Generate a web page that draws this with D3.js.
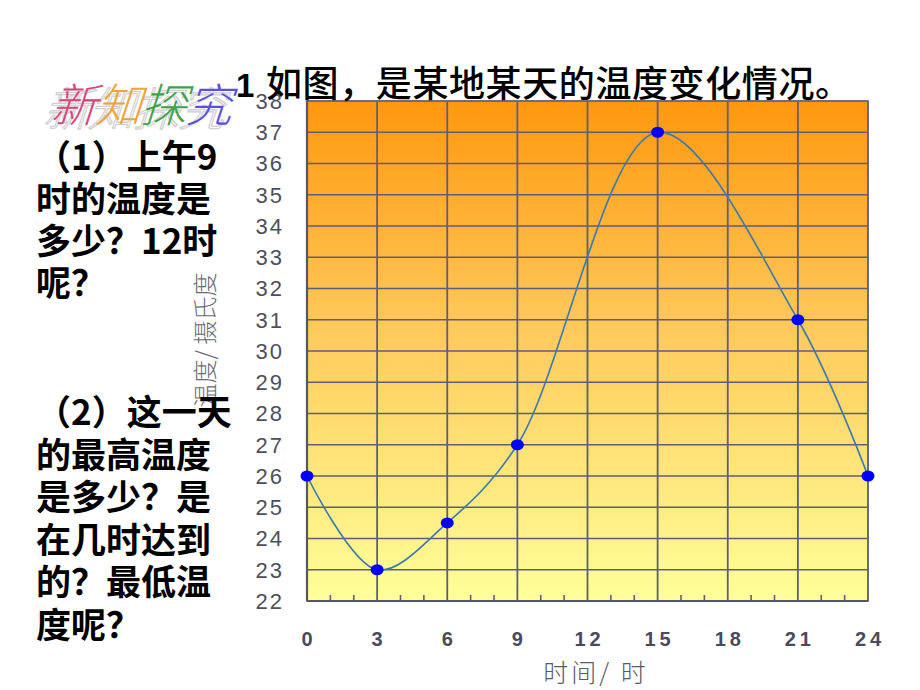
<!DOCTYPE html>
<html>
<head>
<meta charset="utf-8">
<script src="https://cdn.jsdelivr.net/npm/d3@7/dist/d3.min.js"></script>
<style>
  html, body { margin: 0; padding: 0; background: #fff; }
  svg { display: block; }
</style>
</head>
<body>
<svg id="chart" width="920" height="690"></svg>
<script>
// ---- data ----
const hours = [0, 3, 6, 9, 15, 21, 24];
const temps = [26, 23, 24.5, 27, 37, 31, 26];
const xTicks = [0, 3, 6, 9, 12, 15, 18, 21, 24];
const yTicks = [22, 23, 24, 25, 26, 27, 28, 29, 30, 31, 32, 33, 34, 35, 36, 37, 38];
const minorHours = [1, 2, 4, 5, 7, 8, 10, 11, 13, 14, 16, 17, 19, 20, 22, 23];
const titleNum = "1";
const titleText = "如图，是某地某天的温度变化情况。";
const xLabel = "时间/ 时";
const yLabel = "温度/ 摄氏度";
const q1Lines = ["（1）上午9", "时的温度是", "多少？12时", "呢？"];
const q2Lines = ["（2）这一天", "的最高温度", "是多少？是", "在几时达到", "的？最低温", "度呢？"];
const badgeChars = ["新", "知", "探", "究"];
const badgeColors = ["#d8457a", "#eea43a", "#3fa34a", "#5a4fe0"];

// ---- layout ----
const svg = d3.select("#chart");
const L = 307, R = 868, T = 101, B = 601;
const x = d3.scaleLinear().domain([0, 24]).range([L, R]);
const y = d3.scaleLinear().domain([22, 38]).range([B, T]);

const defs = svg.append("defs");
const grad = defs.append("linearGradient").attr("id", "bg")
  .attr("x1", 0).attr("y1", 0).attr("x2", 0).attr("y2", 1);
grad.append("stop").attr("offset", "0%").attr("stop-color", "#ff980e");
grad.append("stop").attr("offset", "45%").attr("stop-color", "#ffc95a");
grad.append("stop").attr("offset", "100%").attr("stop-color", "#ffff99");

svg.append("rect").attr("x", L).attr("y", T).attr("width", R - L).attr("height", B - T)
  .attr("fill", "url(#bg)");

const gridColor = "#5e5e78";
svg.append("g").selectAll("line").data(yTicks).join("line")
  .attr("x1", L).attr("x2", R)
  .attr("y1", d => y(d)).attr("y2", d => y(d))
  .attr("stroke", gridColor).attr("stroke-width", 1.6);
svg.append("g").selectAll("line").data(xTicks).join("line")
  .attr("y1", T).attr("y2", B)
  .attr("x1", d => x(d)).attr("x2", d => x(d))
  .attr("stroke", gridColor).attr("stroke-width", 1.8);
svg.append("g").selectAll("line").data(minorHours).join("line")
  .attr("x1", d => x(d)).attr("x2", d => x(d))
  .attr("y1", B).attr("y2", B - 6)
  .attr("stroke", gridColor).attr("stroke-width", 1.6);
svg.append("rect").attr("x", L).attr("y", T).attr("width", R - L).attr("height", B - T)
  .attr("fill", "none").attr("stroke", "#6a6a80").attr("stroke-width", 1.6);
svg.append("line").attr("x1", L).attr("x2", L).attr("y1", T).attr("y2", B)
  .attr("stroke", "#55556e").attr("stroke-width", 2.2);
svg.append("line").attr("x1", L).attr("x2", R).attr("y1", B).attr("y2", B)
  .attr("stroke", "#55556e").attr("stroke-width", 2.2);

// y tick labels
svg.append("g").selectAll("text").data(yTicks).join("text")
  .attr("x", 284).attr("y", d => y(d)).attr("dy", "0.36em")
  .attr("text-anchor", "end")
  .attr("font-family", "Liberation Sans, Arial, sans-serif")
  .attr("font-size", 22).attr("letter-spacing", 2).attr("fill", "#4e4e5e")
  .text(d => d);

// x tick labels
svg.append("g").selectAll("text").data(xTicks).join("text")
  .attr("x", d => x(d) + 2).attr("y", 646)
  .attr("text-anchor", "middle")
  .attr("font-family", "Liberation Sans, Arial, sans-serif")
  .attr("font-weight", "bold").attr("font-size", 20)
  .attr("letter-spacing", 4).attr("fill", "#4a4a5e")
  .text(d => d);

// curve
const line = d3.line().x((d, i) => x(hours[i])).y(d => y(d)).curve(d3.curveCatmullRom.alpha(0.5));
svg.append("path").attr("d", line(temps))
  .attr("fill", "none").attr("stroke", "#3a78b0").attr("stroke-width", 1.6);

// points
svg.append("g").selectAll("ellipse").data(temps).join("ellipse")
  .attr("cx", (d, i) => x(hours[i])).attr("cy", d => y(d))
  .attr("rx", 6.5).attr("ry", 5.5).attr("fill", "#0000ff");

// axis labels
svg.append("text").attr("x", 596).attr("y", 682).attr("text-anchor", "middle")
  .attr("font-family", "Noto Sans CJK SC, sans-serif").attr("font-weight", 300)
  .attr("font-size", 25).attr("letter-spacing", 3).attr("fill", "#5a5a66")
  .text(xLabel);
svg.append("text").attr("transform", "translate(214,340) rotate(-90)")
  .attr("text-anchor", "middle")
  .attr("font-family", "Noto Sans CJK SC, sans-serif").attr("font-weight", 300)
  .attr("font-size", 24).attr("fill", "#6a6a76")
  .text(yLabel);

// title
svg.append("text").attr("x", 236).attr("y", 97)
  .attr("font-family", "Liberation Sans, Arial, sans-serif").attr("font-weight", "bold")
  .attr("font-size", 33).attr("fill", "#000")
  .text(titleNum);
svg.append("text").attr("x", 266).attr("y", 97)
  .attr("font-family", "Noto Sans CJK SC, sans-serif").attr("font-weight", 500)
  .attr("font-size", 36).attr("letter-spacing", 0.6).attr("fill", "#000")
  .text(titleText);

// question text
const qFont = "Noto Sans CJK SC, sans-serif";
svg.append("g").selectAll("text").data(q1Lines).join("text")
  .attr("x", 36).attr("y", (d, i) => 170 + i * 42)
  .attr("font-family", qFont).attr("font-weight", "bold")
  .attr("font-size", 35).attr("fill", "#000")
  .text(d => d);
svg.append("g").selectAll("text").data(q2Lines).join("text")
  .attr("x", 36).attr("y", (d, i) => 425 + i * 42.5)
  .attr("font-family", qFont).attr("font-weight", "bold")
  .attr("font-size", 35).attr("fill", "#000")
  .text(d => d);

// decorative badge 新知探究
const badge = svg.append("g").attr("transform", "translate(36,122) skewX(-18)");
badge.selectAll("text.sh").data(badgeChars).join("text").attr("class", "sh")
  .attr("x", (d, i) => 8 + i * 45).attr("y", 4)
  .attr("font-family", qFont).attr("font-weight", 300)
  .attr("font-size", 46).attr("fill", "none")
  .attr("stroke", "#cfcfcf").attr("stroke-width", 1.2)
  .text(d => d);
badge.selectAll("text.fg").data(badgeChars).join("text").attr("class", "fg")
  .attr("x", (d, i) => 14 + i * 45).attr("y", 0)
  .attr("font-family", qFont).attr("font-weight", 300)
  .attr("font-size", 46).attr("fill", (d, i) => badgeColors[i])
  .text(d => d);
</script>
</body>
</html>
